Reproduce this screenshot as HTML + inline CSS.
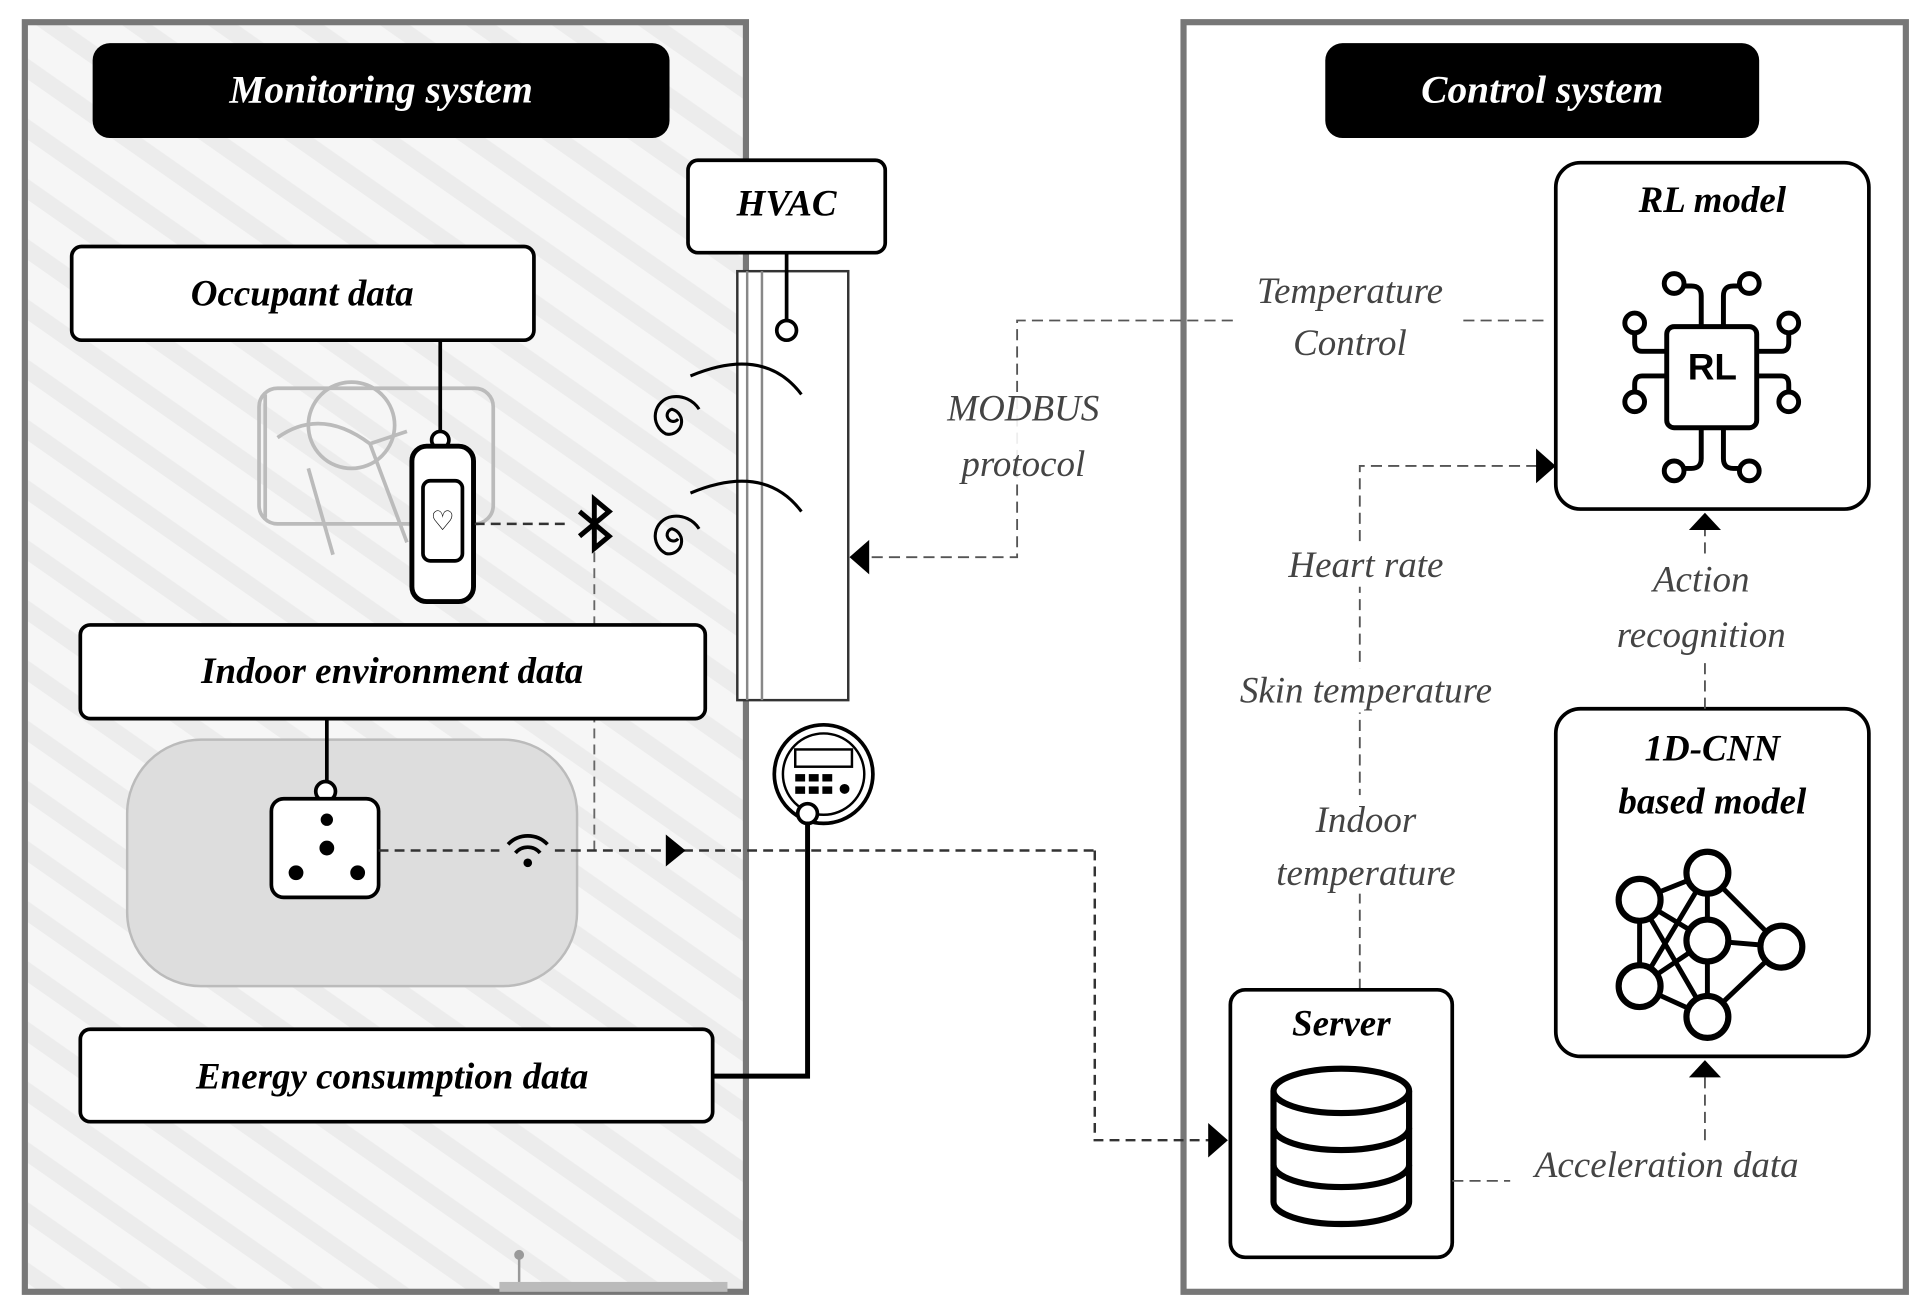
<!DOCTYPE html>
<html><head><meta charset="utf-8"><style>
html,body{margin:0;padding:0;background:#fff;}
svg{display:block;}
text{font-family:"Liberation Serif",serif;font-style:italic;}
</style></head><body>
<svg width="1927" height="1314" viewBox="0 0 1563 1066" xmlns="http://www.w3.org/2000/svg">
<defs>
<pattern id="hatch" width="40" height="40" patternUnits="userSpaceOnUse" patternTransform="rotate(-55)">
<rect width="40" height="40" fill="#f6f6f6"/><rect width="14" height="40" fill="#ececec"/>
</pattern>
</defs>
<rect width="1563" height="1066" fill="#fff"/>
<!-- Left panel -->
<rect x="20" y="18" width="585" height="1030" fill="url(#hatch)" stroke="#777" stroke-width="5"/>
<rect x="405" y="1040" width="185" height="8" fill="#bbb"/>
<line x1="421" y1="1018" x2="421" y2="1040" stroke="#999" stroke-width="2"/><circle cx="421" cy="1018" r="4" fill="#999"/>
<rect x="75" y="35" width="468" height="77" rx="14" fill="#000"/>
<text x="309" y="83" font-size="32" font-weight="bold" fill="#fff" text-anchor="middle">Monitoring system</text>
<!-- Right panel -->
<rect x="960" y="18" width="586" height="1030" fill="#fff" stroke="#777" stroke-width="5"/>
<rect x="1075" y="35" width="352" height="77" rx="14" fill="#000"/>
<text x="1251" y="83" font-size="32" font-weight="bold" fill="#fff" text-anchor="middle">Control system</text>

<!-- HVAC and duct -->
<rect x="598" y="220" width="90" height="348" fill="#fff" stroke="#333" stroke-width="2"/>
<line x1="606" y1="220" x2="606" y2="568" stroke="#888" stroke-width="2"/>
<line x1="618" y1="220" x2="618" y2="568" stroke="#888" stroke-width="2"/>
<rect x="558" y="130" width="160" height="75" rx="8" fill="#fff" stroke="#000" stroke-width="3"/>
<text x="638" y="175" font-size="30" font-weight="bold" text-anchor="middle">HVAC</text>
<line x1="638" y1="205" x2="638" y2="260" stroke="#000" stroke-width="3"/>
<circle cx="638" cy="268" r="8" fill="#fff" stroke="#000" stroke-width="3"/>
<!-- spirals -->
<g fill="none" stroke="#000" stroke-width="2.5">
<path d="M560 305 Q620 280 650 320"/>
<path d="M560 400 Q620 375 650 415"/>
<path d="M550 340 a5 5 0 1 1 -5 -8 a10 10 0 1 1 -5 20 a16 16 0 0 1 5 -30 a22 22 0 0 1 22 10"/>
<path d="M550 437 a5 5 0 1 1 -5 -8 a10 10 0 1 1 -5 20 a16 16 0 0 1 5 -30 a22 22 0 0 1 22 10"/>
</g>

<!-- Occupant -->
<rect x="58" y="200" width="375" height="76" rx="8" fill="#fff" stroke="#000" stroke-width="3"/>
<text x="245" y="248" font-size="30" font-weight="bold" text-anchor="middle">Occupant data</text>
<g fill="none" stroke="#bbb" stroke-width="3">
<circle cx="285" cy="345" r="35"/>
<path d="M215 320 L215 420 M225 355 Q260 330 300 360 L330 440 M250 380 L270 450 M300 360 L330 350"/>
<rect x="210" y="315" width="190" height="110" rx="15"/>
</g>
<line x1="357" y1="276" x2="357" y2="360" stroke="#000" stroke-width="3"/>
<circle cx="357" cy="357" r="7" fill="#fff" stroke="#000" stroke-width="3"/>
<rect x="334" y="362" width="50" height="126" rx="12" fill="#fff" stroke="#000" stroke-width="4"/>
<rect x="343" y="390" width="32" height="65" rx="6" fill="#fff" stroke="#000" stroke-width="3"/>
<text x="359" y="430" font-size="22" text-anchor="middle" style="font-style:normal">♡</text>
<line x1="385" y1="425" x2="462" y2="425" stroke="#333" stroke-width="2" stroke-dasharray="8 5"/>
<path d="M470 415 L494 435 L482 445 L482 405 L494 415 L470 435" fill="none" stroke="#000" stroke-width="4"/>
<line x1="482" y1="448" x2="482" y2="690" stroke="#666" stroke-width="1.5" stroke-dasharray="8 5"/>

<!-- Indoor env -->
<rect x="65" y="507" width="507" height="76" rx="8" fill="#fff" stroke="#000" stroke-width="3"/>
<text x="318" y="554" font-size="30" font-weight="bold" text-anchor="middle">Indoor environment data</text>
<rect x="103" y="600" width="365" height="200" rx="60" fill="#ddd" stroke="#bbb" stroke-width="2"/>
<line x1="265" y1="583" x2="265" y2="635" stroke="#000" stroke-width="3"/>
<circle cx="264" cy="642" r="8" fill="#fff" stroke="#000" stroke-width="3"/>
<rect x="220" y="648" width="87" height="80" rx="10" fill="#fff" stroke="#000" stroke-width="3"/>
<g fill="#000"><circle cx="265" cy="665" r="5"/><circle cx="265" cy="688" r="6"/><circle cx="240" cy="708" r="6"/><circle cx="290" cy="708" r="6"/></g>
<g fill="none" stroke="#000" stroke-width="3">
<path d="M412 685 a22 22 0 0 1 32 0"/><path d="M418 692 a13 13 0 0 1 20 0"/></g>
<circle cx="428" cy="700" r="3.5" fill="#000"/>
<line x1="307" y1="690" x2="405" y2="690" stroke="#333" stroke-width="2" stroke-dasharray="8 5"/>
<line x1="450" y1="690" x2="888" y2="690" stroke="#333" stroke-width="2" stroke-dasharray="8 5"/>
<polygon points="540,677 556,690 540,703" fill="#000"/>
<polyline points="888,690 888,925 985,925" fill="none" stroke="#333" stroke-width="2" stroke-dasharray="8 5"/>
<polygon points="980,911 996,925 980,939" fill="#000"/>

<!-- meter -->
<circle cx="668" cy="628" r="40" fill="#fff" stroke="#000" stroke-width="3"/>
<circle cx="668" cy="628" r="33" fill="none" stroke="#000" stroke-width="2"/>
<rect x="645" y="608" width="46" height="14" fill="none" stroke="#000" stroke-width="2"/>
<g fill="#000"><rect x="645" y="628" width="8" height="6"/><rect x="656" y="628" width="8" height="6"/><rect x="667" y="628" width="8" height="6"/><rect x="645" y="638" width="8" height="6"/><rect x="656" y="638" width="8" height="6"/><rect x="667" y="638" width="8" height="6"/><circle cx="685" cy="640" r="4"/></g>
<circle cx="655" cy="660" r="8" fill="#fff" stroke="#000" stroke-width="3"/>

<!-- Energy -->
<rect x="65" y="835" width="513" height="75" rx="8" fill="#fff" stroke="#000" stroke-width="3"/>
<text x="318" y="883" font-size="30" font-weight="bold" text-anchor="middle">Energy consumption data</text>
<polyline points="578,873 655,873 655,668" fill="none" stroke="#000" stroke-width="4"/>

<!-- MODBUS connector -->
<polyline points="1252,260 825,260 825,452 700,452" fill="none" stroke="#555" stroke-width="1.5" stroke-dasharray="9 5"/>
<polygon points="705,438 689,452 705,466" fill="#000"/>
<rect x="1005" y="225" width="180" height="70" fill="#fff"/>
<text x="1095" y="246" font-size="30" fill="#444" text-anchor="middle">Temperature</text>
<text x="1095" y="288" font-size="30" fill="#444" text-anchor="middle">Control</text>
<rect x="755" y="318" width="150" height="75" fill="#fff" opacity="0.9"/>
<text x="830" y="341" font-size="30" fill="#444" text-anchor="middle">MODBUS</text>
<text x="830" y="386" font-size="30" fill="#444" text-anchor="middle">protocol</text>

<!-- RL model -->
<rect x="1262" y="132" width="254" height="281" rx="20" fill="#fff" stroke="#000" stroke-width="3"/>
<text x="1389" y="172" font-size="30" font-weight="bold" text-anchor="middle">RL model</text>
<g fill="none" stroke="#000" stroke-width="4">
<rect x="1352" y="265" width="73" height="82" rx="6"/>
<path d="M1380 265 V240 Q1380 232 1372 232 H1365 M1398 265 V240 Q1398 232 1406 232 H1412"/>
<path d="M1380 347 V372 Q1380 380 1372 380 H1365 M1398 347 V372 Q1398 380 1406 380 H1412"/>
<path d="M1352 285 H1332 Q1326 285 1326 278 V270 M1352 305 H1332 Q1326 305 1326 312 V318"/>
<path d="M1425 285 H1445 Q1451 285 1451 278 V270 M1425 305 H1445 Q1451 305 1451 312 V318"/>
<circle cx="1358" cy="230" r="8"/><circle cx="1419" cy="230" r="8"/>
<circle cx="1358" cy="382" r="8"/><circle cx="1419" cy="382" r="8"/>
<circle cx="1326" cy="262" r="8"/><circle cx="1451" cy="262" r="8"/>
<circle cx="1326" cy="326" r="8"/><circle cx="1451" cy="326" r="8"/>
</g>
<text x="1389" y="308" font-size="30" font-weight="bold" text-anchor="middle" style="font-family:'Liberation Sans',sans-serif;font-style:normal">RL</text>

<!-- Server to RL -->
<polyline points="1103,803 1103,378 1250,378" fill="none" stroke="#555" stroke-width="1.5" stroke-dasharray="9 5"/>
<polygon points="1246,364 1262,378 1246,392" fill="#000"/>
<g font-size="30" fill="#444" text-anchor="middle">
<rect x="1030" y="440" width="155" height="36" fill="#fff"/>
<text x="1108" y="468">Heart rate</text>
<rect x="985" y="542" width="248" height="36" fill="#fff"/>
<text x="1108" y="570">Skin temperature</text>
<rect x="1020" y="645" width="180" height="80" fill="#fff"/>
<text x="1108" y="675">Indoor</text>
<text x="1108" y="718">temperature</text>
</g>

<!-- Server -->
<rect x="998" y="803" width="180" height="217" rx="12" fill="#fff" stroke="#000" stroke-width="3"/>
<text x="1088" y="840" font-size="30" font-weight="bold" text-anchor="middle">Server</text>
<g fill="#fff" stroke="#000" stroke-width="5">
<path d="M1033 885 V975 A55 18 0 0 0 1143 975 V885"/>
<ellipse cx="1088" cy="885" rx="55" ry="18"/>
<path d="M1033 915 A55 18 0 0 0 1143 915 M1033 945 A55 18 0 0 0 1143 945" fill="none"/>
</g>

<!-- 1D-CNN -->
<rect x="1262" y="575" width="254" height="282" rx="20" fill="#fff" stroke="#000" stroke-width="3"/>
<text x="1389" y="617" font-size="30" font-weight="bold" text-anchor="middle">1D-CNN</text>
<text x="1389" y="660" font-size="30" font-weight="bold" text-anchor="middle">based model</text>
<g fill="none" stroke="#000" stroke-width="4">
<path d="M1330 730 L1385 708 L1445 768 L1385 825 L1330 800 L1330 730 L1385 763 L1445 768 M1385 708 L1330 800 M1385 708 L1385 763 L1385 825 M1330 730 L1385 825 M1330 800 L1385 763"/>
</g>
<g fill="#fff" stroke="#000" stroke-width="5">
<circle cx="1330" cy="730" r="17"/><circle cx="1385" cy="708" r="17"/><circle cx="1385" cy="763" r="17"/>
<circle cx="1445" cy="768" r="17"/><circle cx="1330" cy="800" r="17"/><circle cx="1385" cy="825" r="17"/>
</g>

<!-- CNN to RL -->
<line x1="1383" y1="575" x2="1383" y2="428" stroke="#555" stroke-width="1.5" stroke-dasharray="9 5"/>
<polygon points="1370,430 1383,416 1396,430" fill="#000"/>
<rect x="1300" y="452" width="165" height="82" fill="#fff"/>
<text x="1380" y="480" font-size="30" fill="#444" text-anchor="middle">Action</text>
<text x="1380" y="525" font-size="30" fill="#444" text-anchor="middle">recognition</text>

<!-- Acceleration -->
<polyline points="1178,958 1225,958" fill="none" stroke="#555" stroke-width="1.5" stroke-dasharray="9 5"/>
<line x1="1383" y1="925" x2="1383" y2="872" stroke="#555" stroke-width="1.5" stroke-dasharray="9 5"/>
<polygon points="1370,874 1383,860 1396,874" fill="#000"/>
<text x="1352" y="955" font-size="30" fill="#444" text-anchor="middle">Acceleration data</text>
</svg>
</body></html>
